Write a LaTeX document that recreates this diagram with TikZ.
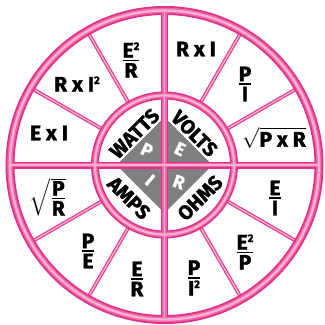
\documentclass[tikz,border=0pt]{standalone}
\usepackage{amsmath}
\usepackage{fontspec}
\setmainfont{Fira Sans}[BoldFeatures={FakeBold=1.5}]
\definecolor{pinkD}{RGB}{226,46,136}
\definecolor{pinkM}{RGB}{238,104,168}
\definecolor{pinkL}{RGB}{248,178,208}
\definecolor{diamondgrey}{RGB}{128,128,128}
\newcommand\pfrac[2]{$\genfrac{}{}{1.7pt}{1}{\mbox{#1}}{\mbox{#2}}$}
\newcommand\sqr{\raisebox{7.5pt}{\fontsize{11}{11}\selectfont 2}}
\begin{document}
\begin{tikzpicture}[x=1pt,y=-1pt,
  lbl/.style={font=\fontsize{21}{24}\selectfont\bfseries, inner sep=0pt},
  word/.style={font=\fontsize{20}{22}\selectfont\bfseries, inner sep=0pt},
  letter/.style={font=\fontsize{18}{20}\selectfont\bfseries, text=white, inner sep=0pt}]
\useasboundingbox (0,0) rectangle (325,325);
\coordinate (C) at (164.5,165);
% spokes
\foreach \a in {30,60,120,150,210,240,300,330} {
  \draw[pinkD, line width=3.6pt, shift={(C)}] (\a:72) -- (\a:151);
  \draw[pinkL, line width=1.4pt, shift={(C)}] (\a:72) -- (\a:151);
}
% diamond
\fill[diamondgrey] (116.5,165) -- (164.5,117) -- (212.5,165) -- (164.5,213) -- cycle;
% rings and cross bars, three shades
\foreach \c/\ko/\ki/\kb in {pinkD/9/8/7, pinkM/5.5/5/4.2, pinkL/2.4/2.2/1.8} {
  \draw[draw=\c, line width=\ko pt] (C) circle[radius=154.5];
  \draw[draw=\c, line width=\ki pt] (C) circle[radius=69.5];
  \draw[draw=\c, line width=\kb pt] (10,165) -- (319,165);
  \draw[draw=\c, line width=\kb pt] (164.5,10.5) -- (164.5,319.5);
}
% inner words
\node[word, rotate=45]  (watts) at (134.5,133.5) {WATTS};
\node[word, rotate=-45] (volts) at (194.5,133.5) {VOLTS};
\node[word, rotate=-45] (amps)  at (129,198) {AMPS};
\node[word, rotate=45]  (ohms)  at (200,198) {OHMS};
% diamond letters
\node[letter, rotate=-25] (lp) at (147,150) {P};
\node[letter, rotate=-25] (le) at (180,149) {E};
\node[letter, rotate=-40] (li) at (150,180) {I};
\node[letter, rotate=-20] (lr) at (179,182) {R};
% outer formulas
\node[lbl] (ul1) at (131,60) {\pfrac{E\sqr}{R}};
\node[lbl] (ul2) at (77,84) {R x I\sqr};
\node[lbl] (ul3) at (49,133) {E x I};
\node[lbl] (ur1) at (196,49) {R x I};
\node[lbl] (ur2) at (245,84) {\pfrac{P}{I}};
\node[lbl] (ur3) at (274,138) {$\sqrt{\mbox{P x R}}$};
\node[lbl] (ll1) at (48,197) {$\sqrt{\genfrac{}{}{1.7pt}{1}{\mbox{P}}{\mbox{R}}}$};
\node[lbl] (ll2) at (88,251) {\pfrac{P}{E}};
\node[lbl] (ll3) at (137,279) {\pfrac{E}{R}};
\node[lbl] (lr1) at (275,198) {\pfrac{E}{I}};
\node[lbl] (lr2) at (245,252) {\pfrac{E\sqr}{P}};
\node[lbl] (lr3) at (194,278) {\pfrac{P}{I\sqr}};
\end{tikzpicture}
\end{document}
